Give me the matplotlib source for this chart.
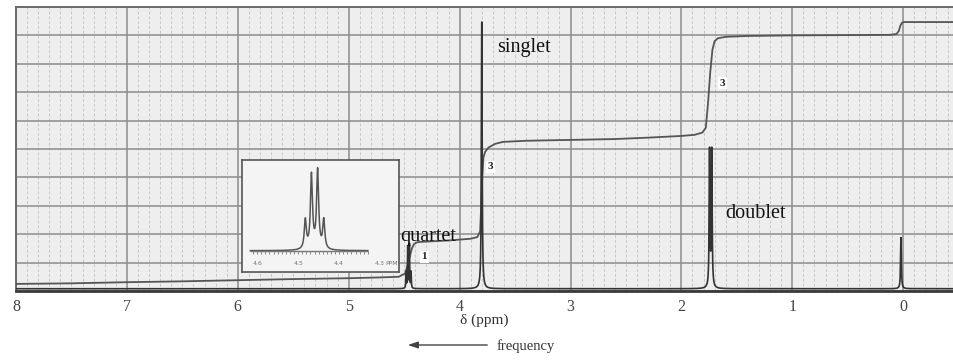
import matplotlib.pyplot as plt
import numpy as np
from matplotlib.ticker import MultipleLocator

plt.rcParams['font.family'] = ['Liberation Serif', 'DejaVu Serif']

# peak list (ppm, height in chart-paper divisions)
quartet_ppm = [4.4825, 4.4675, 4.4525, 4.4375]
quartet_rel = [0.37, 0.94, 1.0, 0.37]
quartet_scale = 1.55
singlet_ppm = [3.80]
singlet_height = [9.39]
doublet_ppm = [1.746, 1.726]
doublet_height = [4.8, 4.8]
tms_ppm = [0.02]
tms_height = [1.8]
baseline_level = 0.08

# integrator trace
integral_ppm = [8.0, 7.5, 7.0, 6.5, 6.0, 5.5, 5.0, 4.7, 4.55, 4.49, 4.46,
                4.43, 4.41, 4.38, 4.3, 4.1, 3.9, 3.84, 3.815, 3.805, 3.795,
                3.785, 3.77, 3.74, 3.68, 3.61, 3.4, 3.0, 2.6, 2.3, 2.0,
                1.88, 1.81, 1.78, 1.76, 1.74, 1.72, 1.70, 1.67, 1.6, 1.4,
                1.0, 0.5, 0.12, 0.06, 0.04, 0.025, 0.01, -0.01, -0.46]
integral_level = [0.25, 0.27, 0.31, 0.34, 0.38, 0.42, 0.45, 0.48, 0.5, 0.62,
                  1.05, 1.5, 1.66, 1.72, 1.74, 1.78, 1.84, 1.9, 2.1, 3.0,
                  4.1, 4.7, 4.9, 5.05, 5.18, 5.25, 5.29, 5.32, 5.35, 5.4,
                  5.46, 5.5, 5.58, 5.75, 6.6, 7.7, 8.5, 8.8, 8.9, 8.95, 8.98,
                  9.0, 9.01, 9.02, 9.05, 9.15, 9.35, 9.45, 9.47, 9.47]

tick_ppm = [8, 7, 6, 5, 4, 3, 2, 1, 0]
inset_ticks = [4.6, 4.5, 4.4, 4.3]

# labels: text, ppm, level
peak_names = [('singlet', 3.66, 8.42), ('doublet', 1.605, 2.57),
              ('quartet', 4.535, 1.76)]
integral_marks = [('1', 4.32, 1.2), ('3', 3.72, 4.37), ('3', 1.63, 7.32)]


def lorentz(x, centres, heights, w):
    y = np.zeros_like(x)
    for c, h in zip(centres, heights):
        y += h * w ** 2 / ((x - c) ** 2 + w ** 2)
    return y


ppm = np.arange(-0.5, 8.0, 0.0005)
spec = (baseline_level
        + lorentz(ppm, quartet_ppm, np.array(quartet_rel) * quartet_scale, 0.0025)
        + lorentz(ppm, singlet_ppm, singlet_height, 0.004)
        + lorentz(ppm, doublet_ppm, doublet_height, 0.004)
        + lorentz(ppm, tms_ppm, tms_height, 0.004))

fig = plt.figure(figsize=(9.54, 3.61), dpi=100)
ax = fig.add_axes([16 / 954, 70 / 361, 938 / 954, 284 / 361])
ax.set_facecolor('#eeeeee')
ax.set_xlim(8, 8 - 938 / 110.9)
ax.set_ylim(0, 10)

ax.set_xticks(tick_ppm)
ax.set_xticklabels([str(t) for t in tick_ppm])
ax.xaxis.set_minor_locator(MultipleLocator(0.1))
ax.set_yticks(range(11))
ax.set_yticklabels([])
ax.tick_params(which='both', length=0)
ax.tick_params(axis='x', labelsize=11.5, labelcolor='#444', pad=6)
ax.grid(which='major', color='#8c8c8c', lw=1.1)
ax.grid(which='minor', axis='x', color='#c8c8c8', lw=0.7, ls=(0, (3, 2)))
ax.set_axisbelow(True)

for side in ['left', 'top']:
    ax.spines[side].set_color('#6a6a6a')
    ax.spines[side].set_linewidth(1.4)
ax.spines['bottom'].set_color('#3a3a3a')
ax.spines['bottom'].set_linewidth(2)
ax.spines['right'].set_visible(False)

ax.plot(integral_ppm, integral_level, color='#555', lw=1.3, zorder=3)
ax.plot(ppm, spec, color='#333', lw=1.2, zorder=4)

for name, x, y in peak_names:
    ax.text(x, y, name, fontsize=14.5, ha='left', va='baseline',
            color='#111', zorder=6)
for txt, x, y in integral_marks:
    ax.text(x, y, txt, fontsize=8, fontweight='bold', ha='center',
            va='center', color='#222', zorder=6,
            bbox=dict(boxstyle='square,pad=0.15', fc='white', ec='none'))

fig.text(484 / 954, 1 - 320 / 361, 'δ (ppm)', fontsize=11, ha='center',
         va='center', color='#333')
fig.text(497 / 954, 1 - 346 / 361, 'frequency', fontsize=10.5, ha='left',
         va='center', color='#333')
ax.annotate('', xy=(405 / 954, 1 - 345 / 361), xycoords='figure fraction',
            xytext=(490 / 954, 1 - 345 / 361), textcoords='figure fraction',
            arrowprops=dict(arrowstyle='-|>,head_length=0.6,head_width=0.2',
                            color='#444', lw=1))

# expanded view of the quartet
axin = fig.add_axes([242 / 954, 89 / 361, 157 / 954, 112 / 361])
axin.set_facecolor('#f4f4f4')
axin.set_xlim(4.637, 4.254)
axin.set_ylim(-0.27, 1.15)
axin.set_xticks([])
axin.set_yticks([])
for s in axin.spines.values():
    s.set_color('#555')
    s.set_linewidth(1.2)

zoom_ppm = np.arange(4.33, 4.617, 0.0002)
zoom_spec = lorentz(zoom_ppm, quartet_ppm, quartet_rel, 0.003)
axin.plot(zoom_ppm, zoom_spec, color='#555', lw=1.1)
axin.hlines(0, 4.33, 4.617, color='#777', lw=1)
axin.vlines(np.round(np.arange(4.33, 4.615, 0.01), 2), -0.045, 0,
            color='#888', lw=0.7)
for t in inset_ticks:
    axin.text(t, -0.16, f'{t:.1f}', fontsize=4.5, ha='center', va='center',
              color='#777', family='DejaVu Sans')
axin.text(4.288, -0.16, 'PPM', fontsize=4.5, ha='left', va='center',
          color='#777', family='DejaVu Sans')

fig.savefig('out.png', dpi=100)
